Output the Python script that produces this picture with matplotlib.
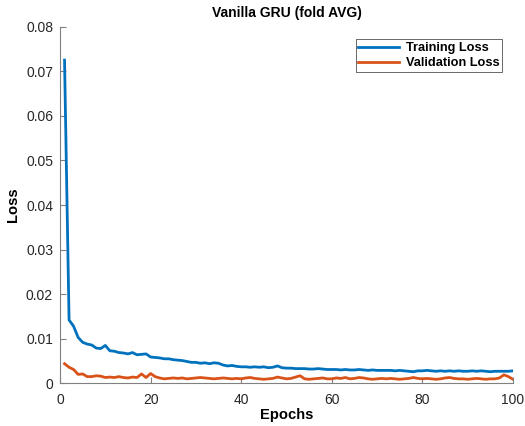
import numpy as np
import matplotlib
matplotlib.use('Agg')
import matplotlib.pyplot as plt

plt.rcParams['font.family'] = ['Liberation Sans', 'DejaVu Sans']

# losses per epoch
train_loss = [
    0.0725, 0.0142, 0.0128, 0.0103, 0.0092, 0.0088, 0.0086, 0.0079, 0.0078, 0.0085,
    0.0073, 0.0072, 0.0069, 0.0068, 0.0066, 0.0069, 0.0064, 0.0065, 0.0066, 0.0059,
    0.0058, 0.0057, 0.0055, 0.0055, 0.0053, 0.0052, 0.0051, 0.0049, 0.0047, 0.0047,
    0.0045, 0.0046, 0.0044, 0.0046, 0.0045, 0.0041, 0.0039, 0.0040, 0.0038, 0.0037,
    0.0037, 0.0036, 0.0037, 0.0036, 0.0037, 0.0035, 0.0036, 0.0039, 0.0035, 0.0034,
    0.0034, 0.0033, 0.0033, 0.0033, 0.0032, 0.0032, 0.0033, 0.0032, 0.0031, 0.0031,
    0.0031, 0.0030, 0.0031, 0.0030, 0.0030, 0.0031, 0.0030, 0.0029, 0.0030, 0.0029,
    0.0029, 0.0029, 0.0029, 0.0028, 0.0029, 0.0028, 0.0027, 0.0026, 0.0028, 0.0028,
    0.0029, 0.0028, 0.0027, 0.0028, 0.0027, 0.0028, 0.0027, 0.0028, 0.0027, 0.0027,
    0.0028, 0.0027, 0.0028, 0.0027, 0.0026, 0.0027, 0.0027, 0.0027, 0.0027, 0.0028,
]
val_loss = [
    0.0044, 0.0036, 0.0031, 0.0020, 0.0021, 0.0015, 0.0015, 0.0017, 0.0016, 0.0013,
    0.0014, 0.0013, 0.0015, 0.0013, 0.0012, 0.0014, 0.0013, 0.0021, 0.0013, 0.0022,
    0.0015, 0.0012, 0.0010, 0.0011, 0.0012, 0.0011, 0.0012, 0.0010, 0.0011, 0.0012,
    0.0013, 0.0012, 0.0011, 0.0010, 0.0011, 0.0012, 0.0011, 0.0010, 0.0011, 0.0010,
    0.0012, 0.0013, 0.0011, 0.0010, 0.0009, 0.0010, 0.0011, 0.0014, 0.0012, 0.0010,
    0.0011, 0.0014, 0.0017, 0.0010, 0.0009, 0.0010, 0.0011, 0.0012, 0.0010, 0.0010,
    0.0012, 0.0011, 0.0013, 0.0010, 0.0011, 0.0013, 0.0012, 0.0010, 0.0009, 0.0010,
    0.0011, 0.0010, 0.0011, 0.0010, 0.0009, 0.0010, 0.0011, 0.0013, 0.0011, 0.0010,
    0.0011, 0.0010, 0.0009, 0.0010, 0.0012, 0.0013, 0.0011, 0.0010, 0.0010, 0.0009,
    0.0010, 0.0011, 0.0010, 0.0009, 0.0010, 0.0010, 0.0012, 0.0019, 0.0015, 0.0009,
]
epochs = np.arange(1, len(train_loss) + 1)

x_ticks = [0, 20, 40, 60, 80, 100]
y_ticks = [0, 0.01, 0.02, 0.03, 0.04, 0.05, 0.06, 0.07, 0.08]
y_labels = ['0', '0.01', '0.02', '0.03', '0.04', '0.05', '0.06', '0.07', '0.08']

fig = plt.figure(figsize=(5.25, 4.26), dpi=100)
ax = fig.add_axes([0.1143, 0.1002, 0.8628, 0.8371])

ax.plot(epochs, train_loss, color='#0072BD', lw=2, label='Training Loss')
ax.plot(epochs, val_loss, color='#D95319', lw=2, label='Validation Loss')

ax.set_xlim(0, 100)
ax.set_ylim(0, 0.08)
ax.set_xticks(x_ticks)
ax.set_yticks(y_ticks)
ax.set_yticklabels(y_labels)

for side in ['top', 'right']:
    ax.spines[side].set_visible(False)
for side in ['left', 'bottom']:
    ax.spines[side].set_color('#808080')
    ax.spines[side].set_linewidth(0.8)
ax.tick_params(direction='in', length=4, width=0.8, color='#808080',
               labelsize=10, labelcolor='#262626')
ax.tick_params(axis='x', pad=7)
ax.tick_params(axis='y', pad=5)

ax.set_title('Vanilla GRU (fold AVG)', fontsize=10, fontweight='bold', pad=7)
ax.set_xlabel('Epochs', fontsize=10.6, fontweight='bold', labelpad=1)
ax.set_ylabel('Loss', fontsize=10.6, fontweight='bold', labelpad=4)

leg = ax.legend(loc='upper right', bbox_to_anchor=(0.984, 0.975),
                prop={'weight': 'bold', 'size': 9.2}, frameon=True, fancybox=False,
                handlelength=3.2, handletextpad=0.5, borderpad=0.2, labelspacing=0.25,
                borderaxespad=0.3)
leg.get_frame().set_edgecolor('#262626')
leg.get_frame().set_linewidth(0.6)

fig.savefig('out.png', dpi=100)
